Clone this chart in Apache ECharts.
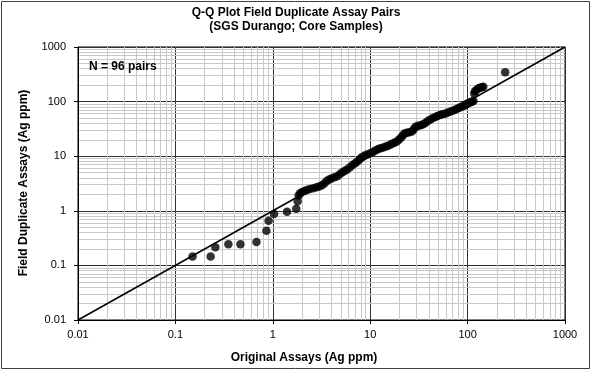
<!DOCTYPE html>
<html>
<head>
<meta charset="utf-8">
<script src="https://cdn.jsdelivr.net/npm/echarts@6/dist/echarts.min.js"></script>
<style>html,body{margin:0;padding:0;background:#fff}#c{width:592px;height:371px}</style>
</head>
<body>
<div id="c"></div>
<script>
// Q-Q pairs (sorted original vs sorted duplicate), Ag ppm
const originalAg = [0.15,0.23,0.257,0.35,0.465,0.68,0.86,0.905,1.03,1.40,1.74,1.80,1.84,1.91,2.0,2.12,2.24,2.4,2.6,2.8,3.0,3.2,3.4,3.6,3.8,4.0,4.3,4.6,4.9,5.2,5.5,5.8,6.2,6.6,7.0,7.4,7.8,8.2,8.7,9.3,10.0,10.7,11.4,12.1,12.8,13.6,14.5,15.3,16.2,17.0,17.9,18.8,19.8,20.8,21.6,22.5,23.8,25.2,26.8,28.0,29.2,31.0,33.0,35.0,36.8,39.0,41.5,44.0,46.6,49.0,52.0,55.0,58.7,62.0,66.0,70.0,74.0,78.0,82.0,86.0,90.0,94.0,97.0,100.0,104.0,108.0,112.0,115.0,117.0,119.0,124.0,130.0,134.0,140.0,145.0,243.0];
const duplicateAg = [0.145,0.145,0.215,0.244,0.244,0.268,0.43,0.66,0.87,0.96,1.09,1.5,1.9,2.1,2.2,2.3,2.4,2.5,2.6,2.7,2.8,2.95,3.2,3.55,3.75,3.9,4.1,4.3,4.7,5.1,5.4,5.7,6.3,6.9,7.4,8.0,8.8,9.6,10.2,10.8,11.3,12.0,12.8,13.5,14.0,14.5,15.0,15.6,16.3,17.0,17.8,18.6,20.2,22.0,24.0,26.0,26.8,27.5,28.2,31.0,34.5,36.0,37.0,38.5,40.5,44.0,47.0,50.0,52.0,54.5,57.0,58.5,60.0,62.5,65.0,68.0,70.5,74.0,77.0,80.0,83.0,86.0,89.0,92.0,95.0,98.0,100.0,103.0,140.0,155.0,165.0,175.0,180.0,183.0,187.0,344.0];
const oneToOne = [[0.01,0.01],[1000,1000]];
const tickLabels = ['0.01','0.1','1','10','100','1000'];
const minorGrid = [0.02,0.03,0.04,0.05,0.06,0.07,0.08,0.09,
  0.2,0.3,0.4,0.5,0.6,0.7,0.8,0.9,
  2,3,4,5,6,7,8,9,
  20,30,40,50,60,70,80,90,
  200,300,400,500,600,700,800,900];

const pairs = originalAg.map((v,i)=>[v, duplicateAg[i]]);
const font = 'Arial, "Liberation Sans", sans-serif';
function fmt(v){
  const e = Math.round(Math.log10(v));
  return tickLabels[e+2] !== undefined ? tickLabels[e+2] : '';
}
const axisCommon = {
  type:'log', logBase:10, min:0.01, max:1000,
  axisLine:{show:true, lineStyle:{color:'#000', width:1}},
  axisTick:{show:true, length:4, lineStyle:{color:'#000'}},
  splitLine:{show:true, lineStyle:{color:'#303030', width:1}},
  minorTick:{show:false}, minorSplitLine:{show:false}
};
const chart = echarts.init(document.getElementById('c'), null, {renderer:'canvas'});
chart.setOption({
  backgroundColor:'#fff',
  animation:false,
  grid:{left:78, top:47, width:487, height:273, show:true, borderColor:'#000', borderWidth:1, backgroundColor:'transparent'},
  xAxis:Object.assign({}, axisCommon, {
    axisLabel:{formatter:fmt, fontFamily:font, fontSize:11, color:'#000', margin:9}
  }),
  yAxis:Object.assign({}, axisCommon, {
    axisLabel:{formatter:fmt, fontFamily:font, fontSize:11, color:'#000', margin:12}
  }),
  graphic:[
    {type:'rect', shape:{x:1.5,y:1.5,width:588,height:367}, style:{fill:'none', stroke:'#404040', lineWidth:1}, z:-1},
    {type:'text', x:296, y:6, style:{text:'Q-Q Plot Field Duplicate Assay Pairs\n(SGS Durango; Core Samples)', font:'bold 12px '+font, fill:'#000', align:'center', verticalAlign:'top', lineHeight:14}},
    {type:'text', x:304, y:358, style:{text:'Original Assays (Ag ppm)', font:'bold 12px '+font, fill:'#000', align:'center', verticalAlign:'middle'}},
    {type:'text', x:24, y:183, rotation:Math.PI/2, style:{text:'Field Duplicate Assays (Ag ppm)', font:'bold 12px '+font, fill:'#000', align:'center', verticalAlign:'middle'}},
    {type:'text', x:89, y:67, style:{text:'N = 96 pairs', font:'bold 12px '+font, fill:'#000', align:'left', verticalAlign:'middle'}, z:100}
  ],
  series:[
    {type:'line', data:[], silent:true, z:0, zlevel:0,
      markLine:{silent:true, symbol:['none','none'], animation:false, label:{show:false}, z:0,
        lineStyle:{color:'#c8c8c8', width:1, type:'solid'},
        data: minorGrid.map(v=>({xAxis:v})).concat(minorGrid.map(v=>({yAxis:v})))}
    },
    {type:'line', data:oneToOne, symbol:'none', lineStyle:{color:'#000', width:1.5, type:'solid'}, silent:true, z:10, zlevel:0},
    {type:'scatter', data:pairs, symbol:'circle', symbolSize:8.5, itemStyle:{color:'#000'}, z:11}
  ]
});
</script>
</body>
</html>
